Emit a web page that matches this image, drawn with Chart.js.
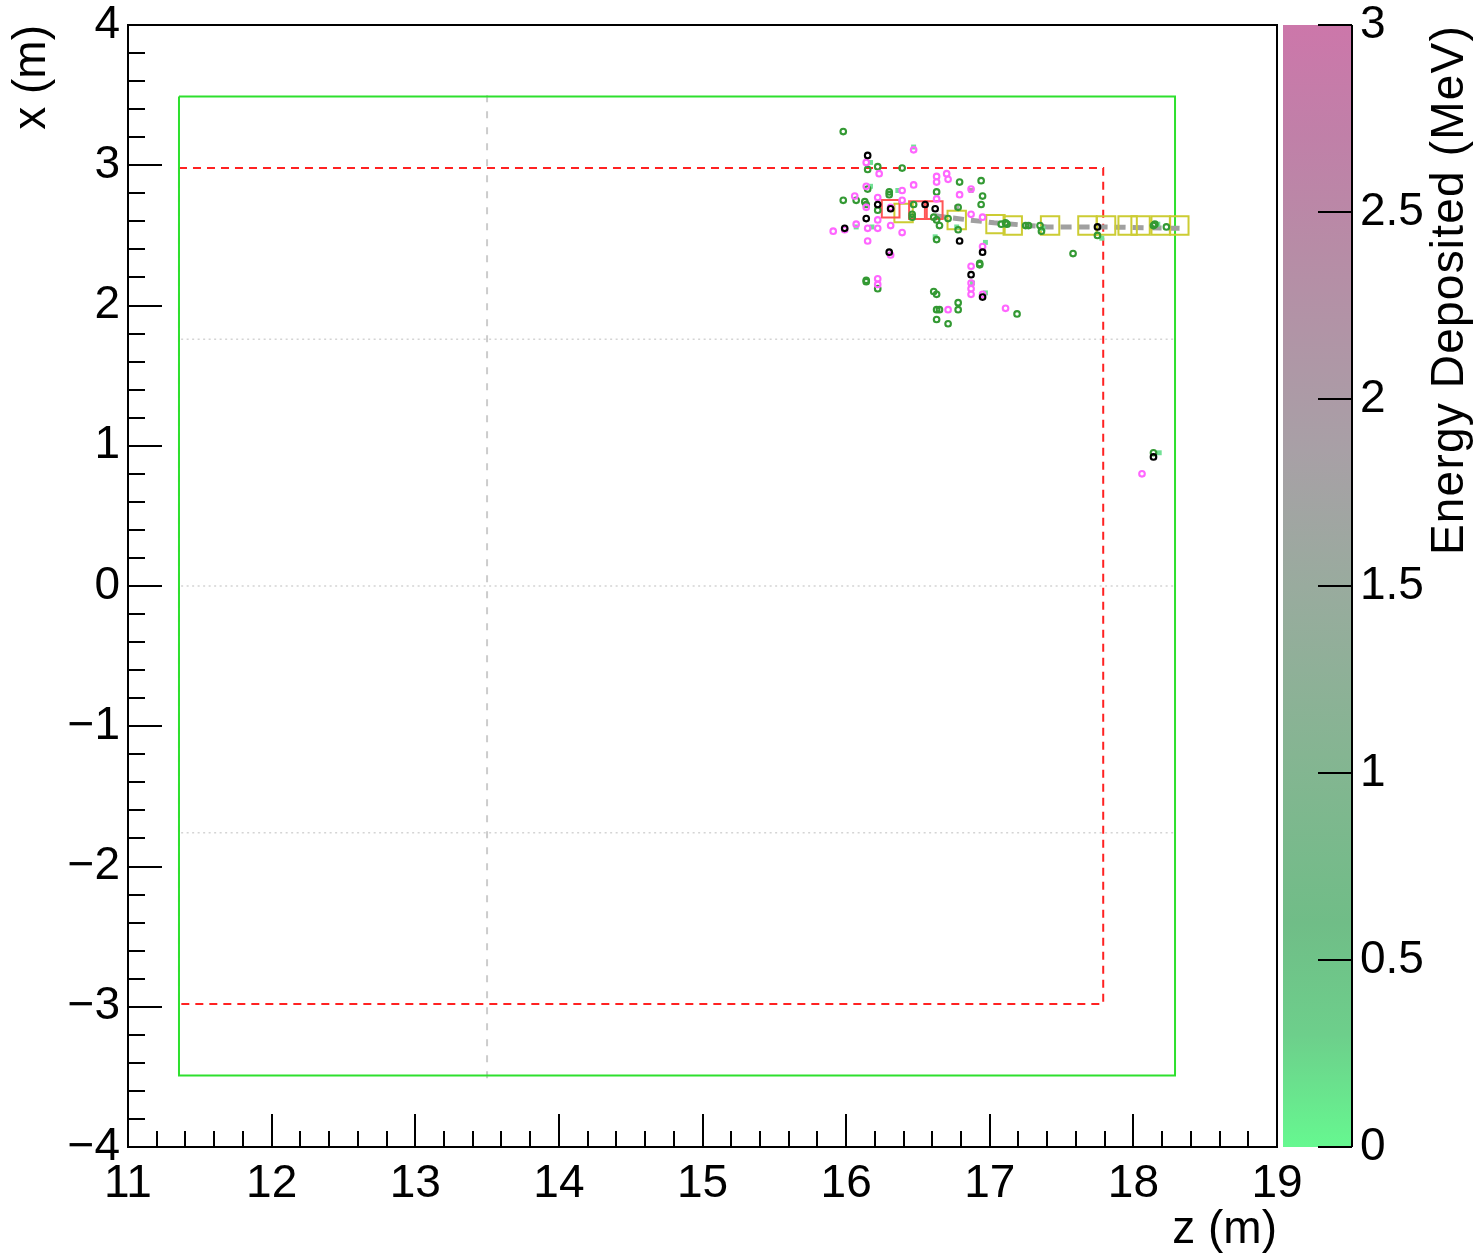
<!DOCTYPE html>
<html>
<head>
<meta charset="utf-8">
<script src="https://cdn.jsdelivr.net/npm/chart.js@4.4.1/dist/chart.umd.min.js"></script>
<style>
  html, body { margin: 0; padding: 0; background: #fff; }
  canvas { display: block; }
</style>
</head>
<body>
<canvas id="evt" width="1483" height="1257"></canvas>
<script>
// ---- axis ranges / ticks ----
const zRange = [11, 19];
const xRange = [-4, 4];
const eRange = [0, 3];

// ---- detector outlines (z, x in m) ----
const outerBox = [[11.355, 3.49], [18.29, 3.49], [18.29, -3.49], [11.355, -3.49], [11.355, 3.49]];
const fiducialBox = [[11.355, 2.98], [17.79, 2.98], [17.79, -2.98], [11.355, -2.98], [11.355, 2.98]];
const cathodeLine = [[13.5, 3.5], [13.5, -3.52]];
const apaLines = [1.76, 0, -1.76];
const apaSpan = [11.37, 18.28];

// ---- hits (z, x) ----
const greenHits = [
  [15.98, 3.24], [16.15, 2.97], [16.22, 2.99], [16.39, 2.98], [16.15, 2.83], [16.30, 2.81], [16.30, 2.79],
  [15.98, 2.75], [16.07, 2.75], [16.14, 2.72], [16.13, 2.74], [16.22, 2.68], [16.47, 2.72], [16.46, 2.63],
  [16.46, 2.65], [16.61, 2.63], [16.63, 2.61], [16.65, 2.57], [16.71, 2.62], [16.79, 2.88], [16.94, 2.89],
  [16.95, 2.78], [16.78, 2.70], [16.94, 2.72], [16.78, 2.54], [16.63, 2.47], [16.63, 2.81], [17.08, 2.58],
  [17.12, 2.58], [17.11, 2.59], [17.25, 2.57], [17.27, 2.57], [17.35, 2.57], [17.36, 2.53], [17.75, 2.50],
  [17.58, 2.37], [18.14, 2.57], [18.15, 2.58], [18.23, 2.56], [18.14, 0.95], [16.14, 2.18], [16.14, 2.17],
  [16.22, 2.12], [16.93, 2.30], [16.93, 2.29], [16.61, 2.10], [16.63, 2.08], [16.78, 2.02], [16.78, 1.97],
  [16.63, 1.97], [16.65, 1.97], [16.63, 1.90], [16.71, 1.87], [17.19, 1.94]
];
const magentaHits = [
  [16.47, 3.11], [16.14, 3.02], [16.23, 2.94], [16.63, 2.92], [16.63, 2.88], [16.70, 2.94], [16.71, 2.90],
  [16.47, 2.86], [16.14, 2.85], [16.39, 2.82], [16.06, 2.78], [16.22, 2.77], [16.39, 2.75], [16.63, 2.76],
  [16.79, 2.79], [16.87, 2.83], [16.14, 2.70], [16.31, 2.70], [16.22, 2.61], [16.15, 2.55], [16.22, 2.55],
  [16.31, 2.57], [16.07, 2.58], [15.99, 2.54], [15.91, 2.53], [16.39, 2.52], [16.15, 2.46], [16.31, 2.36],
  [16.87, 2.65], [16.95, 2.63], [16.95, 2.42], [16.22, 2.19], [16.22, 2.15], [16.87, 2.28], [16.87, 2.16],
  [16.87, 2.12], [16.87, 2.08], [16.95, 2.08], [16.71, 1.97], [17.11, 1.98], [18.06, 0.80]
];
const blackHits = [
  [16.15, 3.07], [16.14, 2.62], [16.22, 2.72], [16.31, 2.69], [16.55, 2.72], [16.62, 2.69], [16.79, 2.46],
  [16.95, 2.38], [16.30, 2.38], [15.99, 2.55], [16.87, 2.22], [16.95, 2.06], [17.75, 2.56], [18.14, 0.92]
];
const lowEnergyHits = [
  [16.47, 3.13], [16.17, 3.02], [16.17, 2.85], [16.36, 2.82], [16.07, 2.56], [16.18, 2.56], [16.62, 2.49],
  [16.77, 2.56], [16.97, 2.45], [17.37, 2.55], [17.78, 2.48], [18.17, 2.58], [18.18, 0.95], [16.97, 2.09],
  [16.88, 2.16]
];
const midEnergyHits = [[16.87, 2.82], [16.77, 2.70]];

// ---- clusters and track ----
const redClusters = [[16.31, 2.69], [16.50, 2.68], [16.61, 2.68]];
const yellowClusters = [
  [16.40, 2.66], [16.77, 2.61], [17.04, 2.58], [17.16, 2.57], [17.42, 2.57], [17.68, 2.57],
  [17.81, 2.57], [17.96, 2.57], [18.05, 2.57], [18.19, 2.57], [18.32, 2.57]
];
const trackPts = [[16.62, 2.64], [16.77, 2.62], [17.03, 2.59], [17.40, 2.56], [17.80, 2.56], [18.33, 2.55]];

// ---- colour scale stops (fraction of 0..3 MeV) ----
const paletteStops = [0, 0.1, 0.2, 0.35, 0.5, 0.62, 0.8, 0.9, 1];
const paletteColors = ['#66f890', '#6dcf8b', '#70bd87', '#85b592', '#99ab9e', '#a8a0a6', '#b78ca6', '#c080a8', '#cc77aa'];

const FONT = 'Liberation Sans, Arial, Helvetica, sans-serif';
const pts = arr => arr.map(([z, x]) => ({ x: z, y: x }));

function lineSet(data, color, width, dash, order) {
  return {
    data: pts(data), showLine: true, borderColor: color, borderWidth: width,
    borderDash: dash, pointRadius: 0, fill: false, order: order
  };
}
function ringSet(data, color, order) {
  return {
    data: pts(data), pointStyle: 'circle', pointRadius: 2.8, borderWidth: 2.1,
    borderColor: color, backgroundColor: 'rgba(0,0,0,0)', order: order
  };
}
function boxSet(data, color, radius, order) {
  return {
    data: pts(data), pointStyle: 'rect', pointRadius: radius, borderWidth: 2,
    borderColor: color, backgroundColor: 'rgba(0,0,0,0)', order: order
  };
}

const datasets = [
  ringSet(blackHits, '#000000', 0),
  ringSet(magentaHits, '#ff66ff', 1),
  ringSet(greenHits, '#339933', 2),
  { data: pts(lowEnergyHits), pointStyle: 'rect', pointRadius: 3.5, borderWidth: 0,
    backgroundColor: '#72e196', order: 3 },
  { data: pts(midEnergyHits), pointStyle: 'rect', pointRadius: 3.5, borderWidth: 0,
    backgroundColor: ['#b49aa8', '#aaaaaa'], order: 3 },
  boxSet(redClusters, '#ff5555', 12.5, 4),
  boxSet(yellowClusters, '#cccc33', 13, 5),
  lineSet(trackPts, '#a0a0a0', 5, [11, 7], 6),
  lineSet(outerBox, '#2ee02e', 2, [], 8),
  lineSet(fiducialBox, '#ff2222', 2, [8, 6], 9),
  lineSet(cathodeLine, '#cccccc', 2, [7, 9], 10)
];
apaLines.forEach(v => {
  datasets.push(lineSet([[apaSpan[0], v], [apaSpan[1], v]], '#d4d4d4', 1.5, [2, 3.5], 11));
});

// ROOT-like frame, inward ticks, colour bar and titles
const rootStyle = {
  id: 'rootStyle',
  afterDraw(chart) {
    const { ctx, chartArea: a, scales: { x, y, e } } = chart;
    ctx.save();

    // colour bar
    const barL = a.right + 6, barR = 1352;
    const top = e.getPixelForValue(eRange[1]), bot = e.getPixelForValue(eRange[0]);
    const grad = ctx.createLinearGradient(0, bot, 0, top);
    paletteStops.forEach((s, i) => grad.addColorStop(s, paletteColors[i]));
    ctx.fillStyle = grad;
    ctx.fillRect(barL, top, barR - barL, bot - top);

    ctx.strokeStyle = '#000';
    ctx.lineWidth = 2;
    ctx.strokeRect(a.left, a.top, a.right - a.left, a.bottom - a.top);
    ctx.beginPath();
    ctx.moveTo(barR, top); ctx.lineTo(barR, bot);

    // z ticks
    for (let i = 0; i <= (zRange[1] - zRange[0]) * 5; i++) {
      const px = Math.round(x.getPixelForValue(zRange[0] + i * 0.2));
      ctx.moveTo(px, a.bottom);
      ctx.lineTo(px, a.bottom - (i % 5 === 0 ? 33 : 16));
    }
    // x ticks
    for (let i = 0; i <= (xRange[1] - xRange[0]) * 5; i++) {
      const py = Math.round(y.getPixelForValue(xRange[0] + i * 0.2));
      ctx.moveTo(a.left, py);
      ctx.lineTo(a.left + (i % 5 === 0 ? 34 : 17), py);
    }
    // colour bar ticks
    e.ticks.forEach(t => {
      const py = Math.round(e.getPixelForValue(t.value));
      ctx.moveTo(barR, py);
      ctx.lineTo(barR - 34, py);
    });
    ctx.stroke();

    // axis titles
    ctx.fillStyle = '#000';
    ctx.font = '46px ' + FONT;
    ctx.textBaseline = 'alphabetic';
    ctx.textAlign = 'right';
    ctx.fillText('z (m)', a.right, 1243);

    ctx.save();
    ctx.translate(45, a.top);
    ctx.rotate(-Math.PI / 2);
    ctx.fillText('x (m)', 0, 0);
    ctx.restore();

    ctx.save();
    ctx.translate(1463, a.top);
    ctx.rotate(-Math.PI / 2);
    ctx.letterSpacing = '1.2px';
    ctx.fillText('Energy Deposited (MeV)', 0, 0);
    ctx.restore();

    ctx.restore();
  }
};

const tickFont = { family: FONT, size: 46 };
const minus = v => String(v).replace('-', '\u2212');
const noPad = s => { s.paddingTop = 0; s.paddingBottom = 0; s.paddingLeft = 0; s.paddingRight = 0; };

new Chart(document.getElementById('evt'), {
  type: 'scatter',
  data: { datasets: datasets },
  options: {
    responsive: false,
    devicePixelRatio: 1,
    animation: false,
    layout: { padding: { top: 25, left: 0, right: 0, bottom: 0 } },
    plugins: { legend: { display: false }, tooltip: { enabled: false } },
    scales: {
      x: {
        type: 'linear', position: 'bottom', min: zRange[0], max: zRange[1],
        grid: { display: false, drawTicks: false }, border: { display: false },
        ticks: { stepSize: 1, font: tickFont, color: '#000', padding: 10, maxRotation: 0, autoSkip: false },
        afterFit: s => { s.height = 110; noPad(s); }
      },
      y: {
        type: 'linear', position: 'left', min: xRange[0], max: xRange[1],
        grid: { display: false, drawTicks: false }, border: { display: false },
        ticks: { stepSize: 1, font: tickFont, color: '#000', padding: 8, autoSkip: false, callback: minus },
        afterFit: s => { s.width = 128; noPad(s); }
      },
      e: {
        type: 'linear', position: 'right', min: eRange[0], max: eRange[1],
        grid: { display: false, drawTicks: false }, border: { display: false },
        ticks: { stepSize: 0.5, font: tickFont, color: '#000', padding: 83, autoSkip: false, callback: v => String(v) },
        afterFit: s => { s.width = 206; noPad(s); }
      }
    }
  },
  plugins: [rootStyle]
});
</script>
</body>
</html>
